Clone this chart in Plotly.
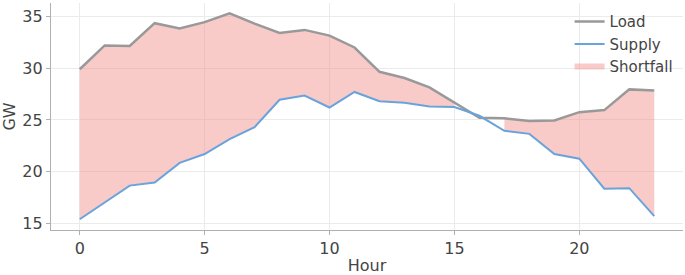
import plotly.graph_objects as go

hours = list(range(24))
load = [29.9, 32.2, 32.15, 34.35, 33.85, 34.45, 35.3, 34.3, 33.4, 33.7, 33.15, 32.0,
        29.65, 29.05, 28.15, 26.7, 25.2, 25.15, 24.9, 24.95, 25.75, 25.95, 27.95, 27.85]
supply = [15.4, 17.05, 18.65, 18.95, 20.85, 21.7, 23.15, 24.3, 26.95, 27.35, 26.2, 27.7,
          26.8, 26.65, 26.3, 26.25, 25.4, 23.95, 23.65, 21.7, 21.25, 18.35, 18.4, 15.7]

# Shortfall segments: consecutive hours where load exceeds supply
segments = []
cur = []
for h, l, s in zip(hours, load, supply):
    if l > s:
        cur.append(h)
    else:
        if len(cur) > 1:
            segments.append(cur)
        cur = []
if len(cur) > 1:
    segments.append(cur)

fig = go.Figure()
for i, seg in enumerate(segments):
    xs = seg + seg[::-1]
    ys = [load[h] for h in seg] + [supply[h] for h in seg[::-1]]
    fig.add_trace(go.Scatter(x=xs, y=ys, fill="toself", mode="none",
                             fillcolor="rgba(240,140,135,0.45)",
                             name="Shortfall", legendgroup="sf",
                             showlegend=(i == 0), legendrank=3, hoverinfo="skip"))

fig.add_trace(go.Scatter(x=hours, y=load, mode="lines", name="Load",
                         line=dict(color="#999999", width=2.5), legendrank=1))
fig.add_trace(go.Scatter(x=hours, y=supply, mode="lines", name="Supply",
                         line=dict(color="#6aa3dc", width=2), legendrank=2))

axis_common = dict(showgrid=True, gridcolor="#ebebeb", gridwidth=1, zeroline=False,
                   showline=True, linecolor="#b0b0b0", linewidth=1.2,
                   ticks="outside", ticklen=4, tickcolor="#b0b0b0",
                   tickfont=dict(size=16, color="#444444"))

fig.update_layout(
    width=685, height=275,
    margin=dict(l=51, r=2, t=3, b=43),
    paper_bgcolor="white", plot_bgcolor="white",
    font=dict(family="DejaVu Sans", color="#444444"),
    xaxis=dict(range=[-1.15, 24.15], tickvals=[0, 5, 10, 15, 20],
               title=dict(text="Hour", font=dict(size=16, color="#444444"), standoff=4),
               **axis_common),
    yaxis=dict(range=[14.36, 36.3], tickvals=[15, 20, 25, 30, 35],
               title=dict(text="GW", font=dict(size=16, color="#444444"), standoff=6),
               **axis_common),
    legend=dict(x=0.993, y=0.99, xanchor="right", yanchor="top",
                bgcolor="rgba(255,255,255,0)", font=dict(size=15, color="#444444"),
                tracegroupgap=0, itemwidth=30),
    showlegend=True,
)

fig.write_html("out.html")
